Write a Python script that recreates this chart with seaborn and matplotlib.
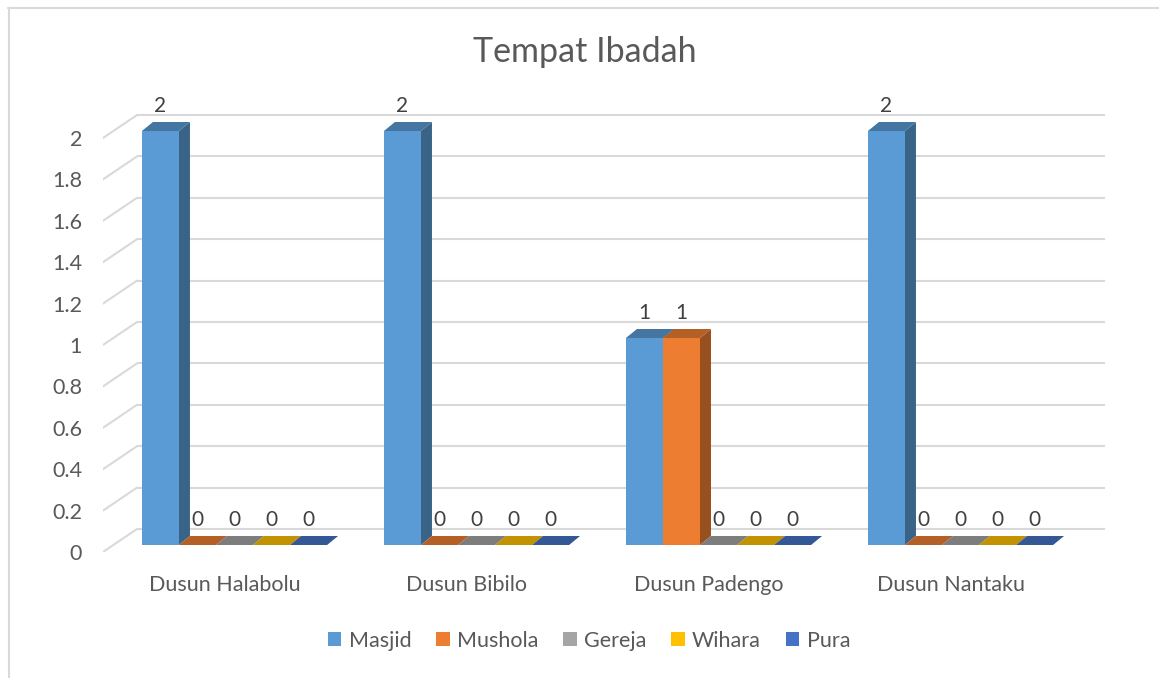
import numpy as np
import pandas as pd
import seaborn as sns
import matplotlib.pyplot as plt
from matplotlib.patches import Polygon, Patch
from matplotlib.lines import Line2D
from matplotlib.colors import to_rgb

# data
dusun = ["Dusun Halabolu", "Dusun Bibilo", "Dusun Padengo", "Dusun Nantaku"]
jenis = ["Masjid", "Mushola", "Gereja", "Wihara", "Pura"]
masjid = [2, 2, 1, 2]
mushola = [0, 0, 1, 0]
gereja = [0, 0, 0, 0]
wihara = [0, 0, 0, 0]
pura = [0, 0, 0, 0]
yticks = [0, 0.2, 0.4, 0.6, 0.8, 1, 1.2, 1.4, 1.6, 1.8, 2]

warna = ["#5b9bd5", "#ed7d31", "#a5a5a5", "#ffc000", "#4472c4"]
grid_col = "#d9d9d9"
text_col = "#595959"

rows = []
for nama, vals in zip(jenis, [masjid, mushola, gereja, wihara, pura]):
    for d, v in zip(dusun, vals):
        rows.append({"dusun": d, "jenis": nama, "jumlah": v})
df = pd.DataFrame(rows)

sns.set_style("white")
plt.rcParams["font.family"] = ["Lato", "DejaVu Sans"]

W, H = 1159, 678
fig = plt.figure(figsize=(W / 100, H / 100), dpi=100)
ax = fig.add_axes([103 / W, 1 - 552 / H, 1002 / W, 457 / H])

sns.barplot(data=df, x="dusun", y="jumlah", hue="jenis", hue_order=jenis,
            order=dusun, palette=warna, saturation=1, width=0.765,
            dodge=True, ax=ax, legend=False, errorbar=None)

# pixel scale of the axes: 242 px per category, 207 px per unit
px_x = 1.0 / 242
px_y = 1.0 / 207
x_left = -0.5434
x_right = x_left + 1002 * px_x
y_bottom = -7 * px_y
y_top = y_bottom + 457 * px_y
ax.set_xlim(x_left, x_right)
ax.set_ylim(y_bottom, y_top)

# fake 3D depth for the bars
DX, DY = 11 * px_x, 9 * px_y
for i, cont in enumerate(ax.containers):
    z = 3 + i * 0.1
    for bar in cont:
        x0, w, h = bar.get_x(), bar.get_width(), bar.get_height()
        c = np.array(to_rgb(bar.get_facecolor()))
        top = Polygon([(x0, h), (x0 + DX, h + DY), (x0 + w + DX, h + DY), (x0 + w, h)],
                      closed=True, facecolor=c * 0.76, edgecolor="none", zorder=z)
        side = Polygon([(x0 + w, 0), (x0 + w + DX, DY), (x0 + w + DX, h + DY), (x0 + w, h)],
                       closed=True, facecolor=c * 0.64, edgecolor="none", zorder=z)
        ax.add_patch(side)
        ax.add_patch(top)
        bar.set_zorder(z + 0.05)
        bar.set_edgecolor("none")
        bar.set_linewidth(0)
    ax.bar_label(cont, fmt="%g", padding=10.5, fontsize=15, color="#404040", zorder=6)

# back wall and side wall gridlines
front_off = 7 * px_y
back_off = 16 * px_y
x_back = x_left + 34 * px_x
for v in yticks:
    ax.plot([x_back, x_right], [v + back_off, v + back_off], color=grid_col, lw=1.5,
            zorder=1, solid_capstyle="butt")
    ax.plot([x_left, x_back], [v - front_off, v + back_off], color=grid_col, lw=1.5,
            zorder=1)

ax.set_yticks([v - front_off for v in yticks], labels=[f"{v:g}" for v in yticks])
ax.set_xticks(np.arange(len(dusun)) - 0.04, labels=dusun)
ax.tick_params(axis="y", length=0, pad=15, labelsize=15.5, labelcolor=text_col)
ax.tick_params(axis="x", length=0, pad=16.5, labelsize=15.5, labelcolor=text_col)
ax.set_xlabel("")
ax.set_ylabel("")
for s in ax.spines.values():
    s.set_visible(False)

fig.text(585 / W, 1 - 52 / H, "Tempat Ibadah", ha="center", va="center",
         fontsize=24.5, color=text_col)

handles = [Patch(facecolor=c, edgecolor="none", label=j) for c, j in zip(warna, jenis)]
fig.legend(handles=handles, loc="center", bbox_to_anchor=(589 / W, 1 - 641 / H),
           ncol=5, frameon=False, fontsize=15.5, handlelength=0.62, handleheight=0.62,
           handletextpad=0.35, columnspacing=1.15, labelcolor=text_col)

# chart frame (top and left edges)
fig.add_artist(Line2D([8 / W, 1], [1 - 8 / H, 1 - 8 / H], transform=fig.transFigure,
                      color=grid_col, lw=1.5))
fig.add_artist(Line2D([9 / W, 9 / W], [0, 1 - 8 / H], transform=fig.transFigure,
                      color=grid_col, lw=1.5))

fig.savefig("out.png", dpi=100)
plt.close(fig)
